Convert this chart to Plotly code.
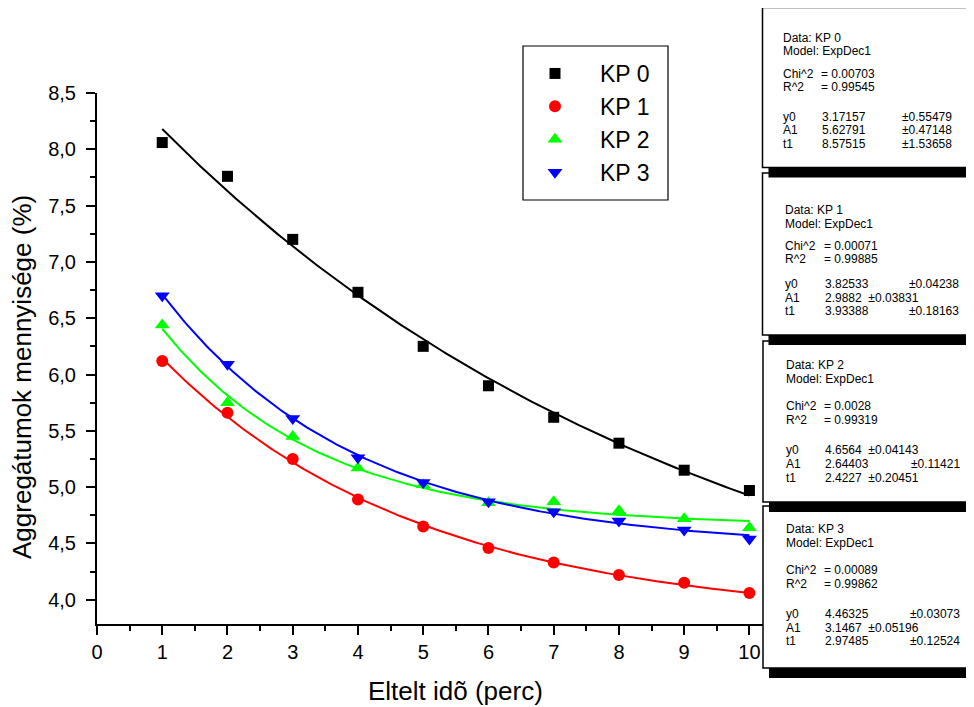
import numpy as np
import plotly.graph_objects as go

# ---------------- data ----------------
x_vals = [1, 2, 3, 4, 5, 6, 7, 8, 9, 10]
series_names = ["KP 0", "KP 1", "KP 2", "KP 3"]
kp0 = [8.06, 7.76, 7.20, 6.73, 6.25, 5.90, 5.62, 5.39, 5.15, 4.97]
kp1 = [6.12, 5.66, 5.25, 4.89, 4.65, 4.46, 4.33, 4.22, 4.15, 4.06]
kp2 = [6.44, 5.75, 5.45, 5.17, 5.02, 4.86, 4.87, 4.79, 4.72, 4.64]
kp3 = [6.70, 6.09, 5.61, 5.26, 5.04, 4.87, 4.78, 4.70, 4.62, 4.54]

# ExpDec1 fit parameters (y = y0 + A1*exp(-x/t1)) as printed in the boxes
fit_y0 = [3.17157, 3.82533, 4.6564, 4.46325]
fit_a1 = [5.62791, 2.9882, 2.64403, 3.1467]
fit_t1 = [8.57515, 3.93388, 2.4227, 2.97485]

# box texts
box_chi2 = ["0.00703", "0.00071", "0.0028", "0.00089"]
box_r2 = ["0.99545", "0.99885", "0.99319", "0.99862"]
box_y0 = ["3.17157", "3.82533", "4.6564", "4.46325"]
box_y0_err = ["±0.55479", "±0.04238", "±0.04143", "±0.03073"]
box_a1 = ["5.62791", "2.9882", "2.64403", "3.1467"]
box_a1_err = ["±0.47148", "±0.03831", "±0.11421", "±0.05196"]
box_t1 = ["8.57515", "3.93388", "2.4227", "2.97485"]
box_t1_err = ["±1.53658", "±0.18163", "±0.20451", "±0.12524"]

x_ticks = [0, 1, 2, 3, 4, 5, 6, 7, 8, 9, 10]
y_ticks = [4.0, 4.5, 5.0, 5.5, 6.0, 6.5, 7.0, 7.5, 8.0, 8.5]

x_title = "Eltelt idõ (perc)"
y_title = "Aggregátumok mennyisége (%)"

# ---------------- style ----------------
colors = ["#000000", "#ff0000", "#00ff00", "#0000ff"]
symbols = ["square", "circle", "triangle-up", "triangle-down"]
msizes = [11, 12, 13, 13]
FONT = "Liberation Sans, Arial, sans-serif"

OFF = 8  # page body margin
W, H = 974 - OFF, 707 - OFF
# plot area in window pixel coordinates
L, R, T, B = 97, 769, 93, 624
PW, PH = R - L, B - T


def px(x):
    return (x - L) / PW


def py(y):
    return (B - y) / PH


fig = go.Figure()
series = [kp0, kp1, kp2, kp3]
xf = np.linspace(1, 10, 200)
for i in range(4):
    yf = fit_y0[i] + fit_a1[i] * np.exp(-xf / fit_t1[i])
    fig.add_trace(go.Scatter(x=xf, y=yf, mode="lines",
                             line=dict(color=colors[i], width=2),
                             showlegend=False, hoverinfo="skip"))
for i in range(4):
    fig.add_trace(go.Scatter(x=x_vals, y=series[i], mode="markers",
                             name=series_names[i],
                             marker=dict(symbol=symbols[i], size=msizes[i],
                                         color=colors[i], line=dict(width=0))))

shapes = []
annotations = []

# legend frame
shapes.append(dict(type="rect", xref="paper", yref="paper",
                   x0=px(523), x1=px(668), y0=py(46), y1=py(200),
                   line=dict(color="black", width=1.2), fillcolor="rgba(0,0,0,0)",
                   layer="above"))

# fit result boxes (drawn bottom-most first so upper shadows overlap)
box_lefts = [762.5, 762.5, 763, 763]
box_tops = [7.5, 173, 341, 506]
box_bots = [167.5, 335, 502, 668]
text_x0 = [780.5, 783, 784, 784]
val_x = [820, 823, 823, 823]
err_x = [900, 907, 909, 908]
row_y = [
    [38, 51.5, 74, 87, 116.5, 130, 143.5],
    [210, 223.5, 246, 259, 284, 297.5, 311],
    [365, 379, 406, 420, 450, 464, 478],
    [529, 543, 570, 584, 614, 627.5, 641],
]
RIGHT = 1010

for k in [3, 2, 1, 0]:
    l, t, b = box_lefts[k], box_tops[k], box_bots[k]
    shapes.append(dict(type="rect", xref="paper", yref="paper",
                       x0=px(l + 6), x1=px(RIGHT), y0=py(b + 10), y1=py(t + 10),
                       line=dict(width=0), fillcolor="black", layer="above"))
    shapes.append(dict(type="rect", xref="paper", yref="paper",
                       x0=px(l), x1=px(RIGHT), y0=py(b), y1=py(t),
                       line=dict(color="black", width=1.5), fillcolor="white",
                       layer="above"))


def txt(x, y, s):
    annotations.append(dict(x=px(x), y=py(y), xref="paper", yref="paper",
                            text=s, showarrow=False, xanchor="left",
                            yanchor="middle",
                            font=dict(family=FONT, size=12, color="black")))


for k in range(4):
    ry = row_y[k]
    x0, vx, ex = text_x0[k], val_x[k], err_x[k]
    txt(x0, ry[0], "Data: " + series_names[k])
    txt(x0, ry[1], "Model: ExpDec1")
    txt(x0, ry[2], "Chi^2")
    txt(vx - 1, ry[2], "= " + box_chi2[k])
    txt(x0, ry[3], "R^2")
    txt(vx - 1, ry[3], "= " + box_r2[k])
    for j, (lab, v, e) in enumerate([("y0", box_y0[k], box_y0_err[k]),
                                     ("A1", box_a1[k], box_a1_err[k]),
                                     ("t1", box_t1[k], box_t1_err[k])]):
        yy = ry[4 + j]
        txt(x0, yy, lab)
        if len(v) < 7:
            txt(vx, yy, v + "\u00a0\u00a0" + e)
        else:
            txt(vx, yy, v)
            txt(ex, yy, e)

# axis titles
annotations.append(dict(x=px(455), y=py(691), xref="paper", yref="paper",
                        text=x_title, showarrow=False, xanchor="center",
                        yanchor="middle",
                        font=dict(family=FONT, size=26, color="black")))
annotations.append(dict(x=px(22), y=py(377), xref="paper", yref="paper",
                        text=y_title, showarrow=False, xanchor="center",
                        yanchor="middle", textangle=-90,
                        font=dict(family=FONT, size=26, color="black")))

fig.update_layout(
    width=W, height=H,
    margin=dict(l=L - OFF, r=W - (R - OFF), t=T - OFF, b=H - (B - OFF), pad=0),
    paper_bgcolor="white", plot_bgcolor="white",
    separators=", ",
    font=dict(family=FONT, color="black"),
    shapes=shapes, annotations=annotations,
    showlegend=True,
    legend=dict(x=px(510), y=py(52), xanchor="left", yanchor="top",
                bgcolor="rgba(0,0,0,0)", borderwidth=0,
                font=dict(family=FONT, size=23, color="black"),
                itemwidth=80, tracegroupgap=0),
    xaxis=dict(range=[0, 10.3], tickvals=x_ticks, ticktext=[str(v) for v in x_ticks],
               showline=True, linecolor="black", linewidth=2,
               ticks="outside", ticklen=9, tickwidth=2, tickcolor="black",
               minor=dict(ticks="outside", ticklen=5, tickwidth=2,
                          tickcolor="black", tickvals=[v + 0.5 for v in x_ticks[:-1]] + [10.5]),
               showgrid=False, zeroline=False,
               tickfont=dict(family=FONT, size=20, color="black")),
    yaxis=dict(range=[8.5 - PH / 112.6, 8.5], tickvals=y_ticks, tickformat=".1f",
               showline=True, linecolor="black", linewidth=2,
               ticks="outside", ticklen=9, tickwidth=2, tickcolor="black",
               ticklabelstandoff=6,
               minor=dict(ticks="outside", ticklen=5, tickwidth=2,
                          tickcolor="black", tickvals=[v + 0.25 for v in y_ticks[:-1]]),
               showgrid=False, zeroline=False,
               tickfont=dict(family=FONT, size=20, color="black")),
)

fig.write_html("out.html")
